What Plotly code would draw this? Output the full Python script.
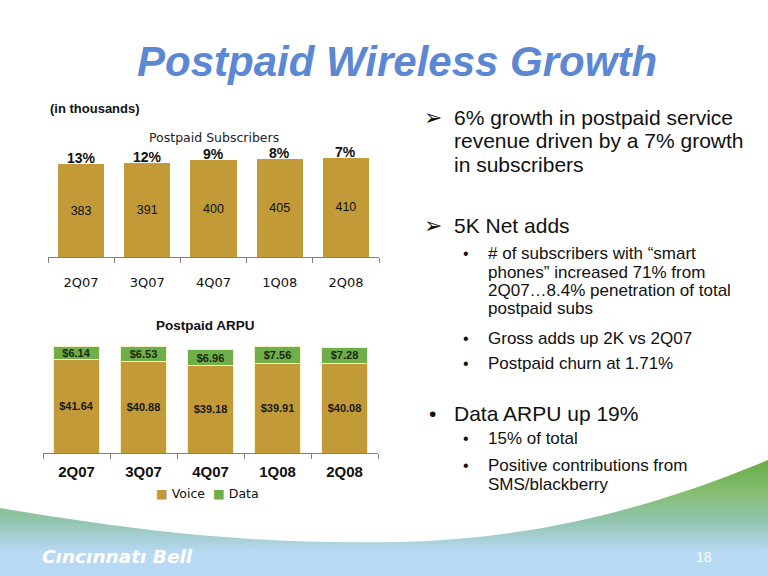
import base64
import plotly.graph_objects as go

# ---------------- data ----------------
quarters = ["2Q07", "3Q07", "4Q07", "1Q08", "2Q08"]
subscribers = [383, 391, 400, 405, 410]
sub_growth = ["13%", "12%", "9%", "8%", "7%"]
arpu_voice = [41.64, 40.88, 39.18, 39.91, 40.08]
arpu_data = [6.14, 6.53, 6.96, 7.56, 7.28]
series_names = ["Voice", "Data"]

GOLD = "#C29A38"
GREEN = "#6FAE48"
TITLE_BLUE = "#5B87D3"
FONT = "Liberation Sans, Arial, sans-serif"
WIDE = "DejaVu Sans, Verdana, sans-serif"

W, H = 768, 576


def px(x):
    return x / W


def py(y):
    return 1 - y / H


fig = go.Figure()

# top chart: subscribers
fig.add_trace(go.Bar(
    x=quarters, y=subscribers, xaxis="x", yaxis="y",
    marker=dict(color=GOLD, line=dict(width=0)),
    width=0.7,
    text=[str(v) for v in subscribers], textposition="inside",
    insidetextanchor="middle", constraintext="none", textangle=0,
    textfont=dict(family=FONT, size=12.5, color="#111111"),
    showlegend=False, hoverinfo="skip",
))

# bottom chart: ARPU stacked
fig.add_trace(go.Bar(
    x=quarters, y=arpu_voice, xaxis="x2", yaxis="y2", name=series_names[0],
    marker=dict(color=GOLD, line=dict(width=1, color="#F4F0C8")),
    width=0.69,
    text=[f"${v:.2f}" for v in arpu_voice], textposition="inside",
    insidetextanchor="middle", constraintext="none", textangle=0,
    textfont=dict(family=FONT, size=11, color="#1A1A1A", weight="bold"),
    showlegend=False, hoverinfo="skip",
))
fig.add_trace(go.Bar(
    x=quarters, y=arpu_data, xaxis="x2", yaxis="y2", name=series_names[1],
    marker=dict(color=GREEN, line=dict(width=1, color="#F4F0C8")),
    width=0.69,
    text=[f"${v:.2f}" for v in arpu_data], textposition="inside",
    insidetextanchor="middle", constraintext="none", textangle=0,
    textfont=dict(family=FONT, size=11, color="#1A2A10", weight="bold"),
    showlegend=False, hoverinfo="skip",
))

annotations = []

# growth percentages above the subscriber bars
for q, v, g in zip(quarters, subscribers, sub_growth):
    annotations.append(dict(
        x=q, y=v, xref="x", yref="y", text=g, showarrow=False,
        yanchor="bottom", xanchor="center", yshift=-4,
        font=dict(family=FONT, size=14, color="#111111", weight="bold"),
    ))


def txt(x, y, text, size, anchor="left", **font):
    f = dict(family=FONT, size=size, color="#111111")
    f.update(font)
    return dict(x=px(x), y=py(y), xref="paper", yref="paper", text=text,
                showarrow=False, xanchor=anchor, yanchor="middle", font=f)


# chart captions
annotations += [
    txt(48, 108, "(in thousands)", 13, weight="bold"),
    txt(214, 137, "Postpaid Subscribers", 12.5, anchor="center",
        family=WIDE, color="#222222"),
    txt(205, 325, "Postpaid ARPU", 13.5, anchor="center", weight="bold"),
    txt(397, 62, "<b><i>Postpaid Wireless Growth</i></b>", 42, anchor="center",
        color=TITLE_BLUE),
    # legend for the ARPU chart
    txt(207, 493,
        f"<span style='color:{GOLD}'>■</span> {series_names[0]}  "
        f"<span style='color:{GREEN}'>■</span> {series_names[1]}",
        12.5, anchor="center", family=WIDE),
]

# right-hand bullet text
main_lines = [
    (117, "➢", "6% growth in postpaid service"),
    (141, None, "revenue driven by a 7% growth"),
    (165, None, "in subscribers"),
    (225, "➢", "5K Net adds"),
    (413, "•", "Data ARPU up 19%"),
]
sub_lines = [
    (253, "•", "# of subscribers with “smart"),
    (272, None, "phones” increased 71% from"),
    (290, None, "2Q07…8.4% penetration of total"),
    (308, None, "postpaid subs"),
    (338, "•", "Gross adds up 2K vs 2Q07"),
    (363, "•", "Postpaid churn at 1.71%"),
    (438, "•", "15% of total"),
    (465, "•", "Positive contributions from"),
    (484, None, "SMS/blackberry"),
]
for y, b, t in main_lines:
    if b == "➢":
        annotations.append(txt(433, y, b, 22, anchor="center",
                               family="DejaVu Sans, " + FONT))
    elif b:
        annotations.append(txt(432, y, b, 21, anchor="center"))
    annotations.append(txt(452, y, t, 21))
for y, b, t in sub_lines:
    if b:
        annotations.append(txt(466, y, b, 16, anchor="center"))
    annotations.append(txt(486, y, t, 17))

# footer
annotations += [
    txt(40, 556, "<b><i>Cıncınnatı Bell</i></b>", 18.5, family="DejaVu Sans",
        color="white"),
    txt(704, 557, "18", 14, anchor="center", color="white"),
]

# decorative background wave (green -> blue gradient)
svg = f'''<svg xmlns="http://www.w3.org/2000/svg" width="{W}" height="{H}" viewBox="0 0 {W} {H}" preserveAspectRatio="none">
<defs><linearGradient id="g" x1="0" y1="455" x2="0" y2="552" gradientUnits="userSpaceOnUse">
<stop offset="0" stop-color="#63AA3E"/><stop offset="0.4" stop-color="#86BE72"/>
<stop offset="0.68" stop-color="#92C4B0"/><stop offset="1" stop-color="#B7D9F3"/></linearGradient></defs>
<path d="M0,508 C120,528 240,545 400,542 C540,539 660,505 768,460 L768,576 L0,576 Z" fill="url(#g)"/>
</svg>'''
svg_uri = "data:image/svg+xml;base64," + base64.b64encode(svg.encode()).decode()

axis_common = dict(type="category", showgrid=False, zeroline=False,
                   showline=True, linecolor="#808080", linewidth=1,
                   ticks="outside", ticklen=5, tickcolor="#808080",
                   tickson="boundaries", fixedrange=True)

fig.update_layout(
    width=W, height=H,
    margin=dict(l=0, r=0, t=0, b=0),
    paper_bgcolor="white", plot_bgcolor="rgba(0,0,0,0)",
    barmode="stack",
    showlegend=False,
    font=dict(family=FONT, color="#111111"),
    xaxis=dict(domain=[px(48), px(379)], anchor="y",
               tickfont=dict(family=WIDE, size=13, color="#111111"),
               ticklabelstandoff=13, **axis_common),
    yaxis=dict(domain=[py(257), py(150)], anchor="x", range=[0, 443],
               visible=False, fixedrange=True),
    xaxis2=dict(domain=[px(43), px(378)], anchor="y2",
                tickfont=dict(family=FONT, size=15, color="#111111", weight="bold"),
                ticklabelstandoff=5, **axis_common),
    yaxis2=dict(domain=[py(453), py(330)], anchor="x2", range=[0, 55],
                visible=False, fixedrange=True),
    annotations=annotations,
    images=[dict(source=svg_uri, xref="paper", yref="paper", x=0, y=1,
                 sizex=1, sizey=1, sizing="stretch", layer="below",
                 xanchor="left", yanchor="top")],
)

fig.write_html(
    "out.html",
    config={"displayModeBar": False},
    post_script="document.body.style.margin='0';document.body.style.overflow='hidden';",
)
